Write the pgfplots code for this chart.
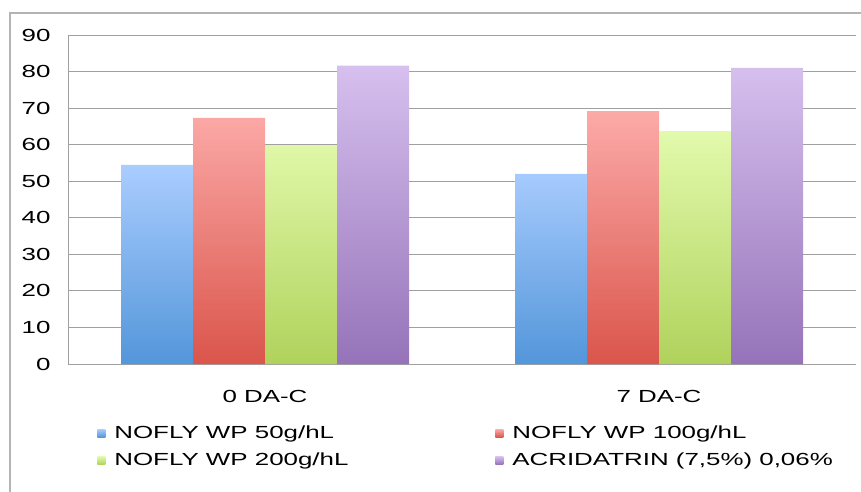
\documentclass[border=0pt]{standalone}
\usepackage{fontspec}
\setmainfont{Liberation Sans}[FakeStretch=1.48]
\usepackage{pgfplots}
\pgfplotsset{compat=1.18}
\definecolor{bluetop}{RGB}{170,205,255}
\definecolor{bluebot}{RGB}{83,150,218}
\definecolor{redtop}{RGB}{252,170,168}
\definecolor{redbot}{RGB}{218,85,75}
\definecolor{greentop}{RGB}{226,250,172}
\definecolor{greenbot}{RGB}{176,210,92}
\definecolor{purptop}{RGB}{214,192,238}
\definecolor{purpbot}{RGB}{150,115,185}
\definecolor{gridgray}{RGB}{160,160,160}
\definecolor{framegray}{RGB}{180,180,180}
\begin{document}
\begin{tikzpicture}[font=\fontsize{17.5}{21}\selectfont]
\path[use as bounding box] (0pt,0pt) rectangle (861pt,491pt);
\draw[framegray, line width=1.3pt] (10pt,-5pt) -- (10pt,478pt) -- (866pt,478pt);
\begin{axis}[
  at={(68pt,127pt)}, anchor=south west,
  scale only axis, width=788pt, height=329pt,
  ybar=0pt, bar width=72pt,
  xmin=-0.5, xmax=1.5, ymin=0, ymax=90,
  xtick={0,1}, xticklabels={0 DA-C, 7 DA-C},
  ytick={0,10,...,90},
  axis lines*=left,
  axis line style={draw=gridgray, line width=1pt, -},
  ymajorgrids, grid style={draw=gridgray, line width=1pt},
  major tick length=0pt,
  /pgf/number format/assume math mode=true,
  yticklabel style={xshift=-14pt},
  xticklabel style={yshift=-23pt},
  legend columns=2,
  legend cell align=left,
  legend style={at={(0.037,-0.182)}, anchor=north west, draw=none, fill=none,
    row sep=9pt, inner sep=0pt,
    /tikz/every odd column/.append style={column sep=7pt}},
  legend image code/.code={\path[#1] (0pt,-4pt) rectangle (8pt,4pt);},
]
\addplot[draw=none, top color=bluetop, bottom color=bluebot] coordinates {(0,54.5) (1,52.0)};
\addplot[draw=none, top color=redtop, bottom color=redbot] coordinates {(0,67.3) (1,69.2)};
\addplot[draw=none, top color=greentop, bottom color=greenbot] coordinates {(0,59.9) (1,63.7)};
\addplot[draw=none, top color=purptop, bottom color=purpbot] coordinates {(0,81.6) (1,81.0)};
\addlegendentry{\makebox[379pt][l]{NOFLY WP 50g/hL}}
\addlegendentry{NOFLY WP 100g/hL}
\addlegendentry{\makebox[379pt][l]{NOFLY WP 200g/hL}}
\addlegendentry{ACRIDATRIN (7,5\%) 0,06\%}
\end{axis}
\end{tikzpicture}
\end{document}
